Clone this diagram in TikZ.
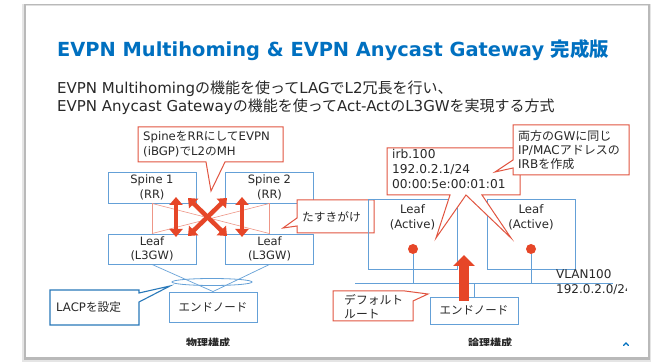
\documentclass[tikz,border=0pt]{standalone}
\usepackage{fontspec}
\setmainfont{DejaVu Sans}
\newfontfamily\jp{Noto Sans CJK JP}
\newcommand\J[1]{{\jp #1}}
\usetikzlibrary{arrows.meta,shapes.geometric}
\definecolor{ttlblue}{RGB}{0,112,192}
\definecolor{boxblue}{RGB}{100,160,215}
\definecolor{callred}{RGB}{225,85,65}
\definecolor{thinred}{RGB}{238,150,135}
\definecolor{arrred}{RGB}{230,70,40}
\definecolor{lacpblue}{RGB}{40,120,185}
\definecolor{txt}{RGB}{40,40,40}
\begin{document}
\begin{tikzpicture}[x=1pt,y=-1pt,
  nbox/.style={draw=boxblue, line width=0.9pt, minimum width=88pt, minimum height=31pt, inner sep=0pt, align=center, font=\fontsize{11.5}{14.5}\selectfont, text=txt},
  lbl/.style={inner sep=0pt, text=txt, font=\fontsize{11.7}{14.5}\selectfont},
  cred/.style={draw=callred, line width=1pt, fill=white, line join=miter},
  cblue/.style={draw=lacpblue, line width=1.1pt, fill=white},
  thinl/.style={draw=thinred, line width=0.6pt},
  bigarr/.style={draw=arrred, line width=4.5pt, {Triangle[width=13pt,length=8pt]}-{Triangle[width=13pt,length=8pt]}},
  net/.style={draw=boxblue, line width=0.9pt},
  capt/.style={inner sep=0pt, text=txt, font=\fontsize{11}{13}\selectfont\bfseries}
]
\useasboundingbox (0,0) rectangle (659,363);
% slide with shadow
\fill[white] (0,0) rectangle (659,363);
\fill[gray!20] (22,4) rectangle (651,362);
\fill[gray!55] (23.5,4.5) rectangle (649.5,360);
\fill[white] (26,5) rectangle (647.5,357.5);
\draw[gray!25, line width=0.5pt] (26,5) -- (647.5,5);

% title and subtitle
\node[anchor=base west, inner sep=0pt, text=ttlblue, font=\fontsize{19.4}{22}\selectfont\bfseries] (title) at (57,57) {EVPN Multihoming \& EVPN Anycast Gateway \J{完成版}};
\node[anchor=base west, inner sep=0pt, text=txt, font=\fontsize{15}{18}\selectfont] (sub1) at (57,94) {EVPN Multihoming\J{の機能を使って}LAG\J{で}L2\J{冗長を行い、}};
\node[anchor=base west, inner sep=0pt, text=txt, font=\fontsize{15}{18}\selectfont] (sub2) at (57,112) {EVPN Anycast Gateway\J{の機能を使って}Act-Act\J{の}L3GW\J{を実現する方式}};

% ---------- physical ----------
\node[nbox] (sp1) at (152,187.5) {Spine 1\\(RR)};
\node[nbox] (sp2) at (269.5,187.5) {Spine 2\\(RR)};
\node[nbox, minimum height=30pt] (lf1) at (152,249) {Leaf\\(L3GW)};
\node[nbox, minimum height=30pt] (lf2) at (269.5,249) {Leaf\\(L3GW)};
\draw[thinl] (sp1.south) -- (lf1.north);
\draw[thinl] (sp2.south) -- (lf2.north);
\draw[thinl] (sp1.south) -- (lf2.north);
\draw[thinl] (sp2.south) -- (lf1.north);

\coordinate (v1t) at (176,197); \coordinate (v1b) at (176,237);
\coordinate (v2t) at (242,197); \coordinate (v2b) at (242,237);
\coordinate (x1t) at (188,198); \coordinate (x1b) at (227,236);
\coordinate (x2t) at (227,198); \coordinate (x2b) at (188,236);
\draw[bigarr] (v1t) -- (v1b);
\draw[bigarr] (v2t) -- (v2b);
\draw[bigarr] (x1t) -- (x1b);
\draw[bigarr] (x2t) -- (x2b);

% callout Spine RR
\draw[cred] (138,127) -- (283,127) -- (283,162) -- (225,162) -- (211,191) -- (206,162) -- (138,162) -- cycle;
\node[lbl, anchor=west, align=left, font=\fontsize{11.7}{15}\selectfont] (crr) at (143,144.5) {Spine\J{を}RR\J{にして}EVPN\\(iBGP)\J{で}L2\J{の}MH};

% callout tasukigake
\draw[cred] (297,200) -- (374,200) -- (374,233) -- (297,233) -- (297,226) -- (283,228) -- (297,218) -- cycle;
\node[lbl, anchor=west] (ctk) at (302,216.5) {\J{たすきがけ}};

% end node and LAG
\node[nbox, minimum height=30pt] (en1) at (213,307) {\J{エンドノード}};
\draw[net, line width=0.7pt] (lf1.south) -- (en1.north);
\draw[net, line width=0.7pt] (lf2.south) -- (en1.north);
\node[draw=boxblue, line width=0.8pt, ellipse, minimum width=80pt, minimum height=7pt, inner sep=0pt] (lag) at (212,282) {};

% LACP callout
\draw[cblue] (50,290) -- (139,290) -- (139,293) -- (170,286) -- (139,302) -- (139,325) -- (50,325) -- cycle;
\node[lbl, anchor=west] (clacp) at (56,307.5) {LACP\J{を設定}};

% ---------- logical ----------
\node[nbox, minimum width=89pt, minimum height=70pt] (al1) at (412.5,234) {};
\node[nbox, minimum width=88pt, minimum height=70pt] (al2) at (531,234) {};
\node[lbl, align=center, font=\fontsize{11.7}{15}\selectfont] (tl1) at (412.5,217.5) {Leaf\\(Active)};
\node[lbl, align=center, font=\fontsize{11.7}{15}\selectfont] (tl2) at (531,217.5) {Leaf\\(Active)};
\coordinate (vl) at (355,283);
\coordinate (vr) at (613,283);
\node[circle, fill=arrred, minimum size=10pt, inner sep=0pt] (d1) at (413,249) {};
\node[circle, fill=arrred, minimum size=10pt, inner sep=0pt] (d2) at (531,249) {};
\draw[net] (vl) -- (vr);
\draw[net] (d1.south) -- (d1 |- vl);
\draw[net] (d2.south) -- (d2 |- vl);
\node[nbox, minimum height=27pt] (en2) at (474,310.5) {\J{エンドノード}};
\draw[net] (en2.north) -- (en2.north |- vl);
\coordinate (ua) at (464,301);
\coordinate (ut) at (464,255);
\draw[draw=arrred, line width=9.5pt, -{Triangle[width=21pt,length=11pt]}] (ua) -- (ut);

\begin{scope}
\clip (0,0) rectangle (626,363);
\node[lbl, anchor=west, align=left, font=\fontsize{12}{15}\selectfont] (vlan) at (556,282.5) {VLAN100\\192.0.2.0/24};
\end{scope}

% irb callout
\draw[cred] (387,148) -- (520,148) -- (520,195) -- (482,195) -- (511,238) -- (466,195) -- (436,238) -- (450,195) -- (387,195) -- cycle;
\node[lbl, anchor=west, align=left, font=\fontsize{12.2}{14.7}\selectfont] (cirb) at (392,169) {irb.100\\192.0.2.1/24\\00:00:5e:00:01:01};

% same IP callout
\draw[cred] (513,125) -- (629,125) -- (629,175) -- (513,175) -- (513,168) -- (495,172) -- (513,160) -- cycle;
\node[lbl, anchor=west, align=left, font=\fontsize{12}{14}\selectfont] (csame) at (518,149.5) {\J{両方の}GW\J{に同じ}\\IP/MAC\J{アドレスの}\\IRB\J{を作成}};

% default route callout
\draw[cred] (333,291) -- (405,291) -- (428,294) -- (413,301) -- (413,321) -- (333,321) -- cycle;
\node[lbl, anchor=west, align=left, font=\fontsize{11.8}{13.5}\selectfont] (cdef) at (344,306.5) {\J{デフォルト}\\\J{ルート}};

% captions (cut at the bottom)
\begin{scope}
\clip (0,0) rectangle (659,346);
\node[capt] (cap1) at (208,343) {\J{物理構成}};
\node[capt] (cap2) at (490,343) {\J{論理構成}};
\end{scope}
\draw[ttlblue, line width=1.1pt, line cap=round] (623.5,345.5) -- (626,343) -- (628.5,345.5);
\end{tikzpicture}
\end{document}
